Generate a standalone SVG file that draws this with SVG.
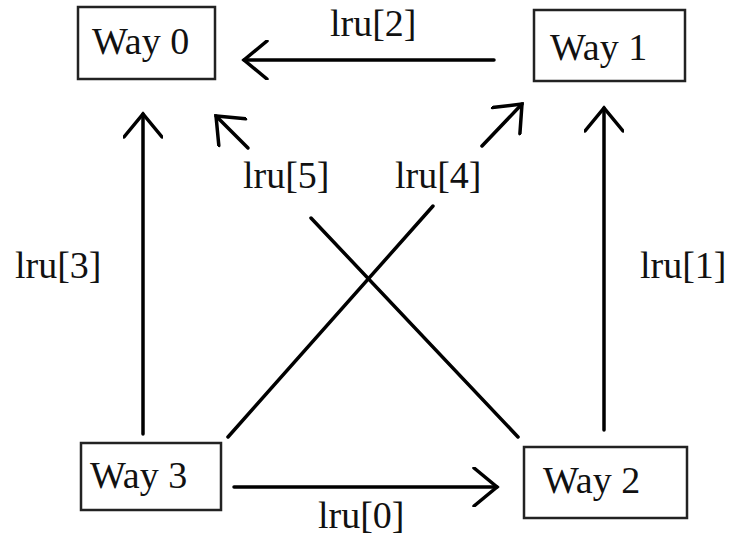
<svg xmlns="http://www.w3.org/2000/svg" width="730" height="540" viewBox="0 0 730 540">
  <style>
    .box { fill: #fff; stroke: #222; stroke-width: 2.5; }
    .lbl { font-family: "Liberation Serif", "Times New Roman", serif; font-size: 38px; fill: #111; }
    .edge { stroke: #000; stroke-width: 3.5; fill: none; stroke-linecap: round; }
  </style>
  <defs>
    <marker id="vhead" markerUnits="userSpaceOnUse" markerWidth="40" markerHeight="40" viewBox="-30 -20 34 40" refX="0" refY="0" orient="auto">
      <path d="M -23 -19 L 0 0 L -23 19" fill="none" stroke="#000" stroke-width="3.5" stroke-linecap="round" stroke-linejoin="miter"/>
    </marker>
  </defs>
  <rect width="730" height="540" fill="#fff"/>

  <g id="connectors">
    <!-- lru[2]: Way 1 -> Way 0 -->
    <line class="edge" x1="494" y1="60" x2="244" y2="60" marker-end="url(#vhead)"/>
    <!-- lru[3]: Way 3 -> Way 0 -->
    <line class="edge" x1="143" y1="434" x2="143" y2="114" marker-end="url(#vhead)"/>
    <!-- lru[1]: Way 2 -> Way 1 -->
    <line class="edge" x1="604" y1="430" x2="604" y2="108" marker-end="url(#vhead)"/>
    <!-- lru[0]: Way 3 -> Way 2 -->
    <line class="edge" x1="234" y1="487" x2="497" y2="487" marker-end="url(#vhead)"/>
    <!-- lru[5]: Way 2 -> Way 0, broken by its label -->
    <line class="edge" x1="518" y1="437" x2="311" y2="218"/>
    <line class="edge" x1="248" y1="148" x2="216" y2="116" marker-end="url(#vhead)"/>
    <!-- lru[4]: Way 3 -> Way 1, broken by its label -->
    <line class="edge" x1="228" y1="437" x2="433" y2="206"/>
    <line class="edge" x1="482" y1="146" x2="522" y2="104" marker-end="url(#vhead)"/>
  </g>

  <g id="way0">
    <rect class="box" x="78" y="7" width="137" height="72"/>
    <text class="lbl" x="92" y="54">Way 0</text>
  </g>
  <g id="way1">
    <rect class="box" x="534" y="10" width="151" height="71"/>
    <text class="lbl" x="550" y="60">Way 1</text>
  </g>
  <g id="way3">
    <rect class="box" x="81" y="443" width="140" height="67"/>
    <text class="lbl" x="90" y="488">Way 3</text>
  </g>
  <g id="way2">
    <rect class="box" x="524" y="447" width="163" height="71"/>
    <text class="lbl" x="543" y="493">Way 2</text>
  </g>

  <g id="labels">
    <text class="lbl" x="330" y="36">lru[2]</text>
    <text class="lbl" x="243" y="188">lru[5]</text>
    <text class="lbl" x="395" y="188">lru[4]</text>
    <text class="lbl" x="15" y="278">lru[3]</text>
    <text class="lbl" x="640" y="278">lru[1]</text>
    <text class="lbl" x="318" y="528">lru[0]</text>
  </g>
</svg>
